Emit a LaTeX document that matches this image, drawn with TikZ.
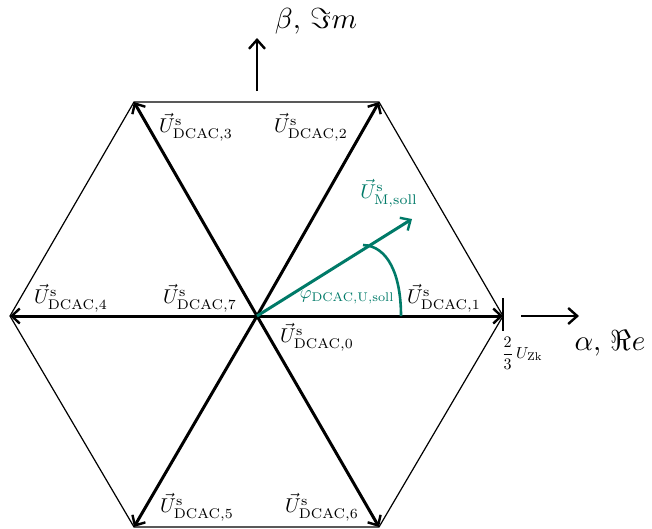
\documentclass[tikz,border=0pt]{standalone}
\usepackage{amssymb}
\usetikzlibrary{arrows.meta}
\definecolor{teal1}{RGB}{0,122,104}
\newcommand{\Uvec}[1]{$\vec{U}^{\mathrm{s}}_{\mathrm{#1}}$}
\begin{document}
\begin{tikzpicture}[x=1pt,y=-1pt,
  vecline/.style={line width=3pt,-{Straight Barb[length=8pt,width=15pt,line width=2.4pt]}},
  hexline/.style={line width=1.2pt},
  axisline/.style={line width=2.6pt,-{Straight Barb[length=9pt,width=16pt,line width=2.4pt]}},
  lbl/.style={inner sep=0pt,scale=2,transform shape}]
\useasboundingbox (0,0) rectangle (652,528);
\coordinate (O) at (257,316);
\coordinate (V1) at (503,316);
\coordinate (V2) at (379,102);
\coordinate (V3) at (134,102);
\coordinate (V4) at (10,316);
\coordinate (V5) at (134,527);
\coordinate (V6) at (379,527);
\draw[hexline] (V1) -- (V2) -- (V3) -- (V4) -- (V5) -- (V6) -- cycle;
\foreach \v in {V1,V2,V3,V4,V5,V6} \draw[vecline] (O) -- (\v);
% tick at right vertex
\coordinate (T1) at (503,298);
\coordinate (T2) at (503,331);
\draw[line width=1.2pt] (T1) -- (T2);
% axes
\coordinate (A1) at (521,316);
\coordinate (A2) at (579,316);
\draw[axisline] (A1) -- (A2);
\coordinate (B1) at (257,91);
\coordinate (B2) at (257,38);
\draw[axisline] (B1) -- (B2);
\node[lbl,scale=1.45] (alab) at (610,343) {$\alpha,\,\Re e$};
\node[lbl,scale=1.45] (blab) at (316,21) {$\beta,\,\Im m$};
\node[lbl,scale=0.8] (zk) at (522,353) {$\displaystyle\frac{2}{3}\,U_{\mathrm{Zk}}$};
% green vector
\coordinate (M) at (412,219);
\draw[teal1,line width=3pt,-{Straight Barb[length=8pt,width=15pt,line width=2.4pt]}] (O) -- (M);
\coordinate (P1) at (401,316);
\coordinate (P2) at (363,245);
\draw[teal1,line width=2.6pt] (P1) .. controls (401,275) and (388,246) .. (P2);
\node[lbl,text=teal1] (mlab) at (389,193) {\Uvec{M,soll}};
\node[lbl,text=teal1,scale=0.9] (phi) at (347,297) {$\varphi_{\mathrm{DCAC,U,soll}}$};
% labels
\node[lbl] (l1) at (444,298) {\Uvec{DCAC,1}};
\node[lbl] (l2) at (311,127) {\Uvec{DCAC,2}};
\node[lbl] (l3) at (196,127) {\Uvec{DCAC,3}};
\node[lbl] (l4) at (71,298) {\Uvec{DCAC,4}};
\node[lbl] (l7) at (200,298) {\Uvec{DCAC,7}};
\node[lbl] (l0) at (317,337) {\Uvec{DCAC,0}};
\node[lbl] (l5) at (197,507) {\Uvec{DCAC,5}};
\node[lbl] (l6) at (322,507) {\Uvec{DCAC,6}};
\end{tikzpicture}
\end{document}
